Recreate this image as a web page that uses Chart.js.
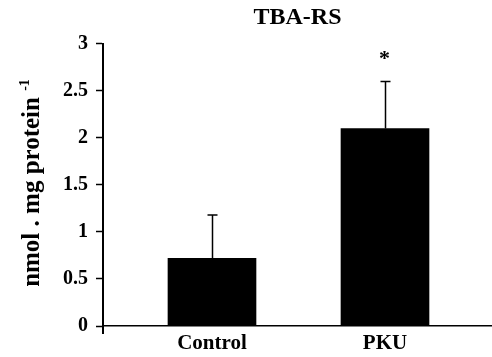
<!DOCTYPE html>
<html>
<head>
<meta charset="utf-8">
<script src="https://cdn.jsdelivr.net/npm/chart.js@4"></script>
<style>
  html, body { margin: 0; padding: 0; background: #fff; }
  .chart-container { width: 492px; height: 357px; }
</style>
</head>
<body>
<div class="chart-container"><canvas id="chart"></canvas></div>
<script>
const categories = ['Control', 'PKU'];
const means = [0.72, 2.10];
const errUp = [0.46, 0.50];
const marks = ['', '*'];
const yLabel = 'nmol . mg protein';
const yLabelSup = '-1';

const serif = "'Liberation Serif', 'Times New Roman', serif";

// barras de error (solo hacia arriba) y asterisco
const errorBars = {
  id: 'errorBars',
  afterDatasetsDraw(chart) {
    const { ctx, scales: { x, y } } = chart;
    ctx.save();
    ctx.strokeStyle = '#000';
    ctx.fillStyle = '#000';
    ctx.lineWidth = 1.5;
    categories.forEach((c, i) => {
      const px = Math.round(x.getPixelForValue(i + 1)) + 0.5;
      const base = y.getPixelForValue(means[i]);
      const top = y.getPixelForValue(means[i] + errUp[i]);
      ctx.beginPath();
      ctx.moveTo(px, base);
      ctx.lineTo(px, top);
      ctx.moveTo(px - 5, top);
      ctx.lineTo(px + 5, top);
      ctx.stroke();
      if (marks[i]) {
        ctx.font = 'bold 22px ' + serif;
        ctx.textAlign = 'center';
        ctx.textBaseline = 'middle';
        ctx.fillText(marks[i], px - 1, top - 22);
      }
    });
    ctx.restore();
  }
};

// titulo del eje Y con superindice
const yTitle = {
  id: 'yTitle',
  afterDraw(chart) {
    const { ctx, chartArea } = chart;
    ctx.save();
    ctx.fillStyle = '#000';
    const mainFont = 'bold 25px ' + serif;
    const supFont = 'bold 14px ' + serif;
    ctx.font = mainFont;
    const w1 = ctx.measureText(yLabel + ' ').width;
    ctx.font = supFont;
    const w2 = ctx.measureText(yLabelSup).width;
    const total = w1 + w2;
    ctx.translate(39, 183);
    ctx.rotate(-Math.PI / 2);
    ctx.textBaseline = 'alphabetic';
    ctx.textAlign = 'left';
    ctx.font = mainFont;
    ctx.fillText(yLabel + ' ', -total / 2, 0);
    ctx.font = supFont;
    ctx.fillText(yLabelSup, -total / 2 + w1, -10);
    ctx.restore();

    // pequeña marca bajo el origen
    ctx.save();
    ctx.strokeStyle = '#000';
    ctx.lineWidth = 2;
    ctx.beginPath();
    ctx.moveTo(chartArea.left, chartArea.bottom);
    ctx.lineTo(chartArea.left, chartArea.bottom + 8);
    ctx.stroke();
    ctx.restore();
  }
};

new Chart(document.getElementById('chart'), {
  type: 'bar',
  data: {
    datasets: [{
      data: categories.map((c, i) => ({ x: i + 1, y: means[i] })),
      backgroundColor: '#000',
      borderWidth: 0,
      barThickness: 88
    }]
  },
  options: {
    responsive: true,
    maintainAspectRatio: false,
    animation: false,
    layout: { padding: 0 },
    plugins: {
      legend: { display: false },
      tooltip: { enabled: false },
      title: {
        display: true,
        text: 'TBA-RS',
        color: '#000',
        fullSize: false,
        font: { family: serif, size: 24, weight: 'bold' },
        padding: { top: 3, bottom: 12 }
      }
    },
    scales: {
      x: {
        type: 'linear',
        offset: false,
        min: 0.37,
        max: 2.6185,
        grid: { display: false, drawTicks: false },
        border: { display: true, color: '#000', width: 1.5 },
        afterBuildTicks: (scale) => {
          scale.ticks = categories.map((c, i) => ({ value: i + 1 }));
        },
        afterFit: (scale) => { scale.height = 31; },
        ticks: {
          callback: (v) => categories[v - 1],
          color: '#000',
          font: { family: serif, size: 21, weight: 'bold' },
          padding: 5,
          maxRotation: 0,
          autoSkip: false
        }
      },
      y: {
        min: 0,
        max: 3,
        afterFit: (scale) => { scale.width = 103; },
        grid: { drawOnChartArea: false, tickLength: 7, tickColor: '#000', tickWidth: 1.5 },
        border: { color: '#000', width: 2 },
        ticks: {
          stepSize: 0.5,
          callback: (v) => String(v),
          color: '#000',
          padding: 8,
          font: { family: serif, size: 20, weight: 'bold' }
        }
      }
    }
  },
  plugins: [errorBars, yTitle]
});
</script>
</body>
</html>
